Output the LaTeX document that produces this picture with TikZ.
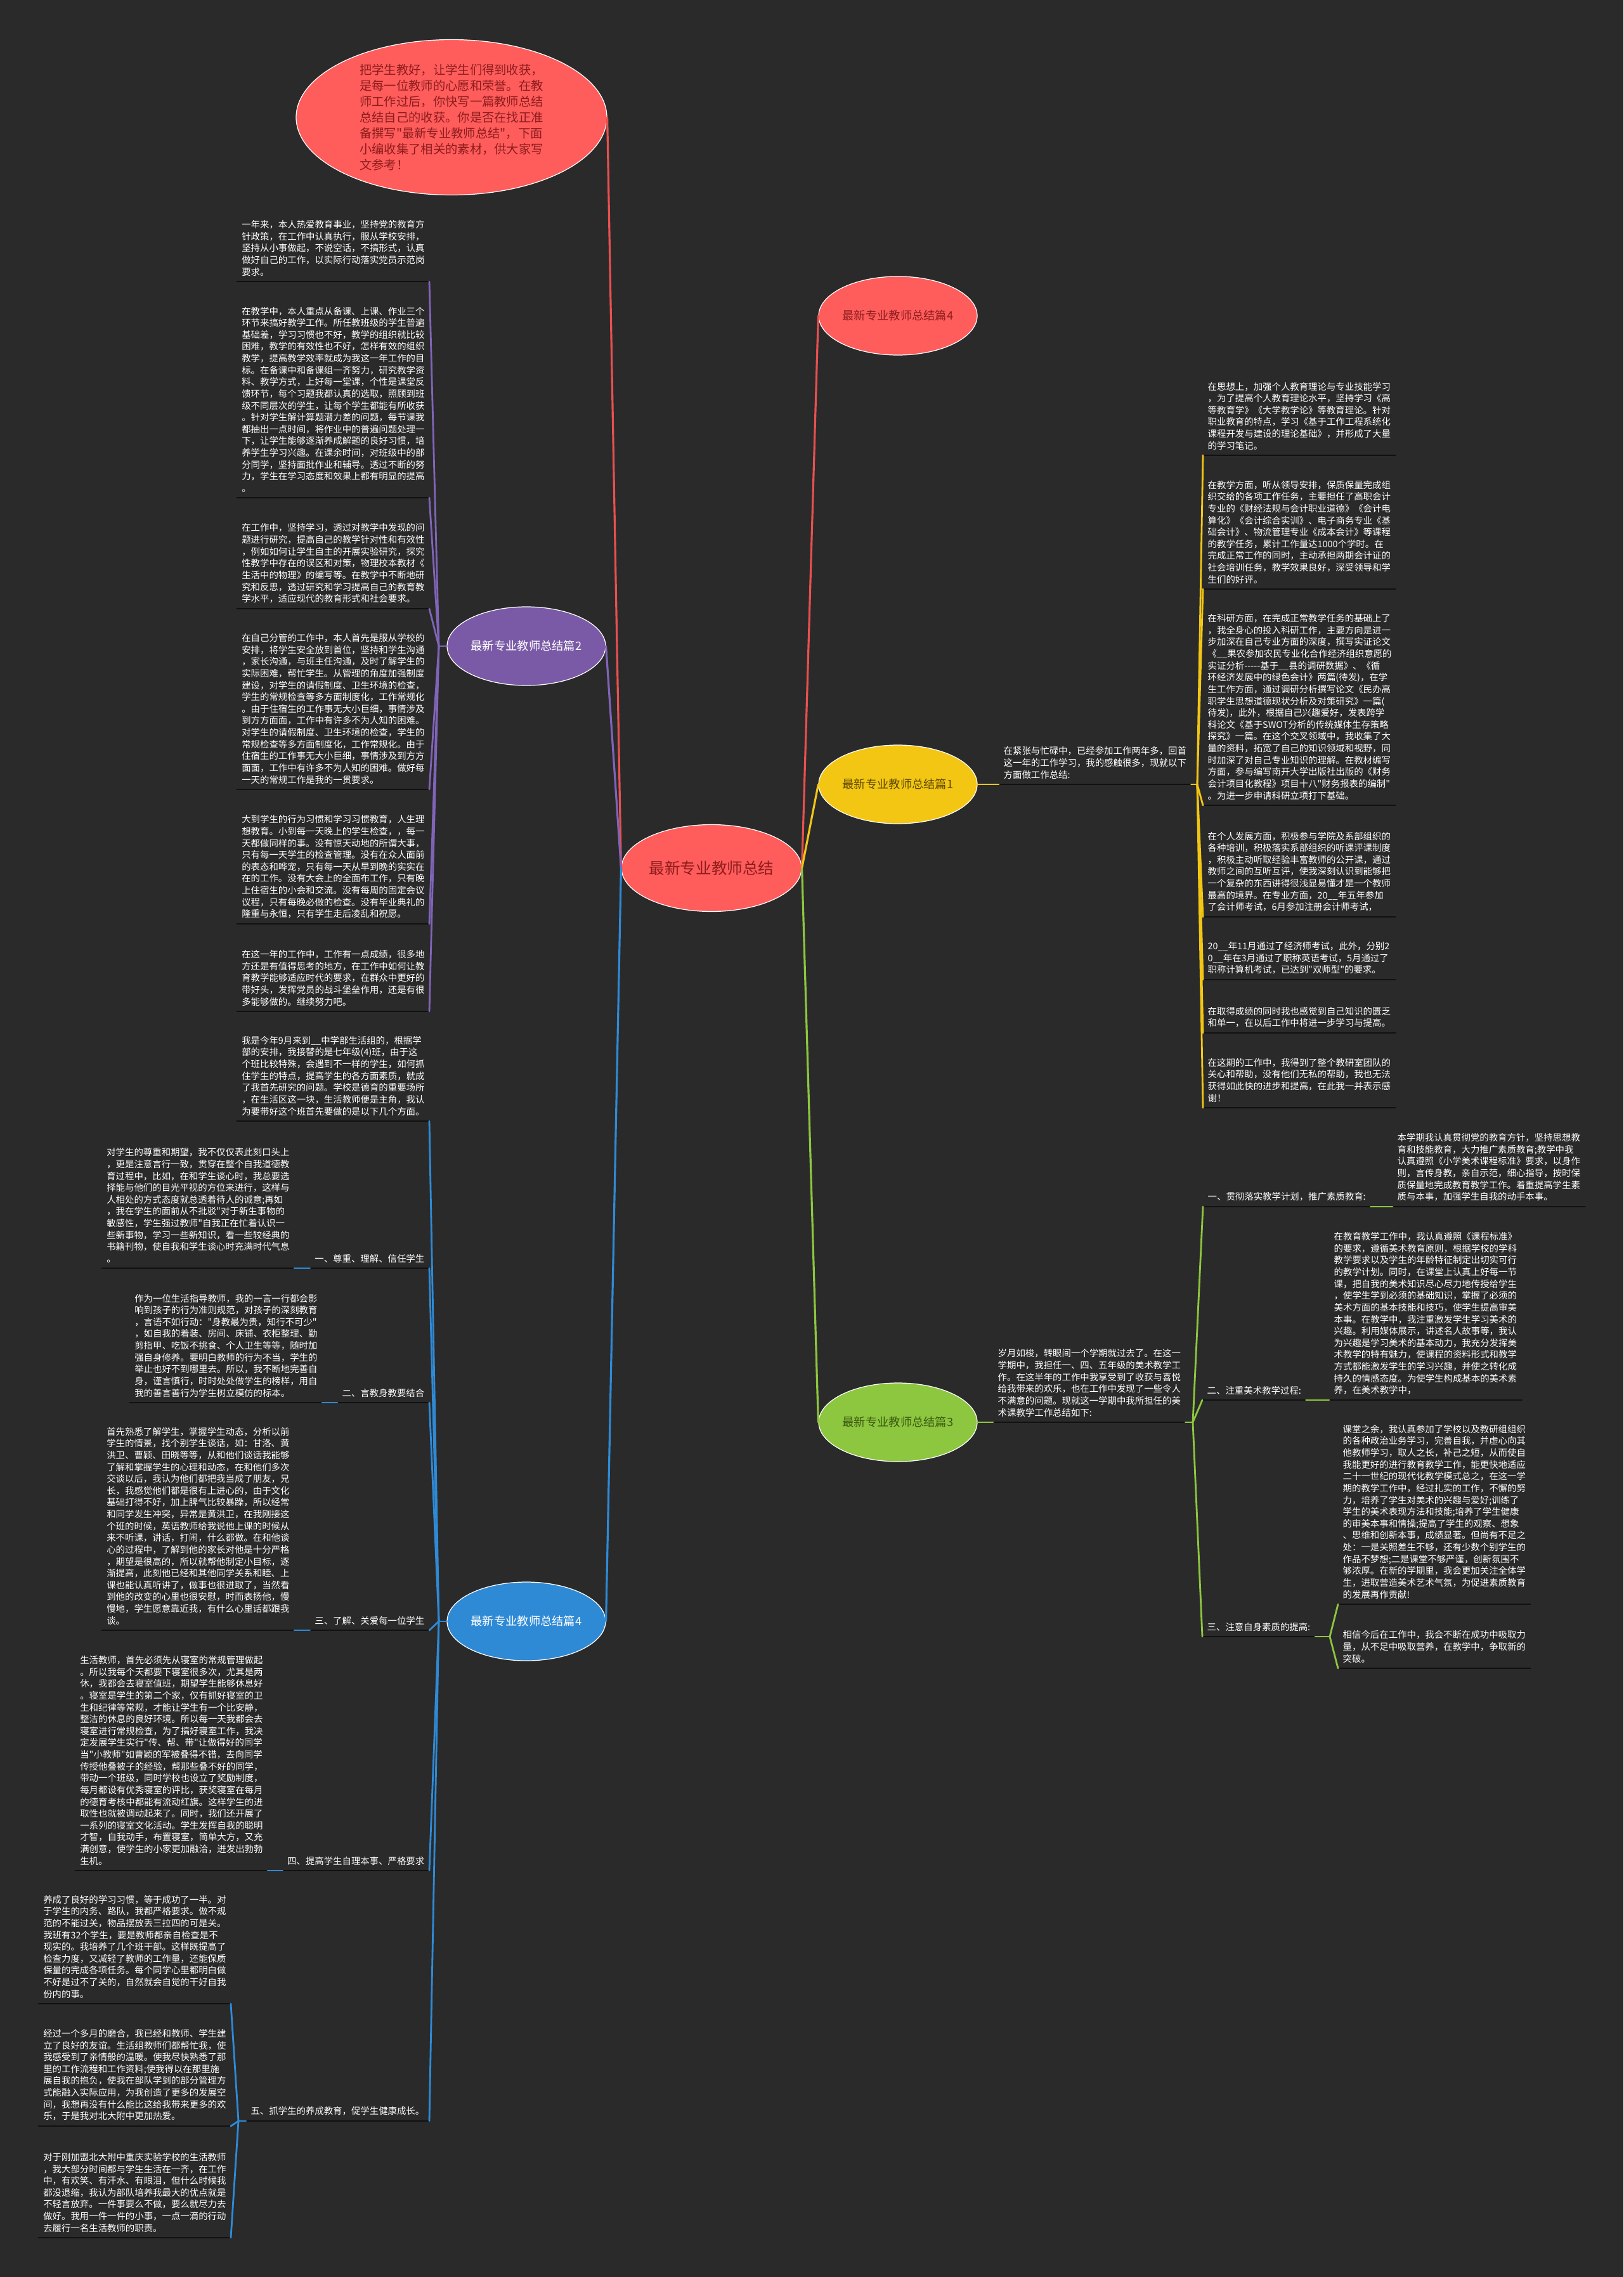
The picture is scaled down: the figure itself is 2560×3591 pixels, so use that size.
\documentclass[tikz,border=0pt]{standalone}
\usepackage{fontspec}
\newfontfamily\cjk{Noto Sans CJK SC}
\usetikzlibrary{shapes.geometric}
\definecolor{bgdark}{HTML}{2A2A2A}
\definecolor{ulblack}{HTML}{111111}
\definecolor{mmred}{HTML}{FF5C5C}
\definecolor{mmredtxt}{HTML}{8E1C1C}
\definecolor{mmredln}{HTML}{E85050}
\definecolor{mmpurple}{HTML}{7A5AA6}
\definecolor{mmpurpleln}{HTML}{8064B8}
\definecolor{mmblue}{HTML}{2F8AD6}
\definecolor{mmyellow}{HTML}{F3C614}
\definecolor{mmyellowtxt}{HTML}{5E4A00}
\definecolor{mmgreen}{HTML}{8DC63F}
\definecolor{mmgreentxt}{HTML}{3B5A12}
\newcommand\leaffont{\cjk\fontsize{4.1pt}{5.3pt}\selectfont}
\newcommand\topicfont{\cjk\fontsize{5.2pt}{6pt}\selectfont}
\newcommand\rootfont{\cjk\fontsize{7pt}{8pt}\selectfont}
\newcommand\introfont{\cjk\fontsize{5.5pt}{7.1pt}\selectfont}
\tikzset{
  every picture/.style={line cap=round, line join=round},
  leaf/.style={text=white, font=\leaffont, align=left, text width=28.8mm,
               inner xsep=0.7mm, inner ysep=0.8mm},
  leafL/.style={leaf, anchor=south east},
  leafR/.style={leaf, anchor=south west},
  tag/.style={text=white, font=\leaffont, inner xsep=0.7mm, inner ysep=0.8mm},
  uline/.style={draw=ulblack, line width=0.75pt},
  topic/.style={ellipse, draw=white, line width=0.35pt, minimum width=25mm,
                minimum height=12.4mm, inner sep=0pt, font=\topicfont},
  limb/.style={draw=#1, line width=0.9pt},
  twig/.style={draw=#1, line width=0.8pt},
}

\begin{document}
\begin{tikzpicture}[x=0.1mm, y=-0.1mm]
  \fill[bgdark] (0,0) rectangle (2560,3591);
  \useasboundingbox (0,0) rectangle (2560,3591);
  % root and topics
  \node[ellipse, draw=white, line width=0.35pt, fill=mmred, text=mmredtxt, minimum width=28.4mm,
        minimum height=13.7mm, inner sep=0pt, font=\rootfont] (cen) at (1122,1369) {最新专业教师总结};
  \node[ellipse, draw=white, line width=0.35pt, fill=mmred, text=mmredtxt, minimum width=49mm,
        minimum height=24.5mm, inner sep=0pt, align=left, font=\introfont] (intro) at (712,185)
    {把学生教好，让学生们得到收获，\\是每一位教师的心愿和荣誉。在教\\师工作过后，你快写一篇教师总结\\总结自己的收获。你是否在找正准\\备撰写"最新专业教师总结"，下面\\小编收集了相关的素材，供大家写\\文参考！};
  \node[topic, fill=mmpurple, text=white] (b2) at (830,1019) {最新专业教师总结篇2};
  \node[topic, fill=mmblue, text=white] (b4l) at (830,2557) {最新专业教师总结篇4};
  \node[topic, fill=mmred, text=mmredtxt] (b4r) at (1416,498) {最新专业教师总结篇4};
  \node[topic, fill=mmyellow, text=mmyellowtxt] (b1) at (1416,1237) {最新专业教师总结篇1};
  \node[topic, fill=mmgreen, text=mmgreentxt] (b3) at (1416,2243) {最新专业教师总结篇3};
  % purple texts
  \node[leafL] (p1) at (677,444) {一年来，本人热爱教育事业，坚持党的教育方\\针政策，在工作中认真执行，服从学校安排，\\坚持从小事做起，不说空话，不搞形式，认真\\做好自己的工作，以实际行动落实党员示范岗\\要求。};
  \node[leafL] (p2) at (677,785) {在教学中，本人重点从备课、上课、作业三个\\环节来搞好教学工作。所任教班级的学生普遍\\基础差，学习习惯也不好，教学的组织就比较\\困难，教学的有效性也不好，怎样有效的组织\\教学，提高教学效率就成为我这一年工作的目\\标。在备课中和备课组一齐努力，研究教学资\\料、教学方式，上好每一堂课，个性是课堂反\\馈环节，每个习题我都认真的选取，照顾到班\\级不同层次的学生，让每个学生都能有所收获\\。针对学生解计算题潜力差的问题，每节课我\\都抽出一点时间，将作业中的普遍问题处理一\\下，让学生能够逐渐养成解题的良好习惯，培\\养学生学习兴趣。在课余时间，对班级中的部\\分同学，坚持面批作业和辅导。透过不断的努\\力，学生在学习态度和效果上都有明显的提高\\。};
  \node[leafL] (p3) at (677,960) {在工作中，坚持学习，透过对教学中发现的问\\题进行研究，提高自己的教学针对性和有效性\\，例如如何让学生自主的开展实验研究，探究\\性教学中存在的误区和对策，物理校本教材《\\生活中的物理》的编写等。在教学中不断地研\\究和反思，透过研究和学习提高自己的教育教\\学水平，适应现代的教育形式和社会要求。};
  \node[leafL] (p4) at (677,1245) {在自己分管的工作中，本人首先是服从学校的\\安排，将学生安全放到首位，坚持和学生沟通\\，家长沟通，与班主任沟通，及时了解学生的\\实际困难，帮忙学生。从管理的角度加强制度\\建设，对学生的请假制度、卫生环境的检查，\\学生的常规检查等多方面制度化，工作常规化\\。由于住宿生的工作事无大小巨细，事情涉及\\到方方面面，工作中有许多不为人知的困难。\\对学生的请假制度、卫生环境的检查，学生的\\常规检查等多方面制度化，工作常规化。由于\\住宿生的工作事无大小巨细，事情涉及到方方\\面面，工作中有许多不为人知的困难。做好每\\一天的常规工作是我的一贯要求。};
  \node[leafL] (p5) at (677,1457) {大到学生的行为习惯和学习习惯教育，人生理\\想教育。小到每一天晚上的学生检查，，每一\\天都做同样的事。没有惊天动地的所谓大事，\\只有每一天学生的检查管理。没有在众人面前\\的表态和哗宠，只有每一天从早到晚的实实在\\在的工作。没有大会上的全面布工作，只有晚\\上住宿生的小会和交流。没有每周的固定会议\\议程，只有每晚必做的检查。没有毕业典礼的\\隆重与永恒，只有学生走后凌乱和祝愿。};
  \node[leafL] (p6) at (677,1595) {在这一年的工作中，工作有一点成绩，很多地\\方还是有值得思考的地方，在工作中如何让教\\育教学能够适应时代的要求，在群众中更好的\\带好头，发挥党员的战斗堡垒作用，还是有很\\多能够做的。继续努力吧。};
  % blue texts
  \node[leafL] (bq0) at (677,1768) {我是今年9月来到\_\_中学部生活组的，根据学\\部的安排，我接替的是七年级(4)班，由于这\\个班比较特殊，会遇到不一样的学生，如何抓\\住学生的特点，提高学生的各方面素质，就成\\了我首先研究的问题。学校是德育的重要场所\\，在生活区这一块，生活教师便是主角，我认\\为要带好这个班首先要做的是以下几个方面。};
  \node[tag, anchor=south east] (bt1) at (677,2000) {一、尊重、理解、信任学生};
  \node[leafL] (bx1) at (464,2000) {对学生的尊重和期望，我不仅仅表此刻口头上\\，更是注意言行一致，贯穿在整个自我道德教\\育过程中，比如，在和学生谈心时，我总要选\\择能与他们的目光平视的方位来进行，这样与\\人相处的方式态度就总透着待人的诚意;再如\\，我在学生的面前从不批驳"对于新生事物的\\敏感性，学生强过教师"自我正在忙着认识一\\些新事物，学习一些新知识，看一些较经典的\\书籍刊物，使自我和学生谈心时充满时代气息\\。};
  \node[tag, anchor=south east] (bt2) at (677,2212) {二、言教身教要结合};
  \node[leafL] (bx2) at (508,2212) {作为一位生活指导教师，我的一言一行都会影\\响到孩子的行为准则规范，对孩子的深刻教育\\，言语不如行动："身教最为贵，知行不可少"\\，如自我的着装、房间、床铺、衣柜整理、勤\\剪指甲、吃饭不挑食、个人卫生等等，随时加\\强自身修养。要明白教师的行为不当，学生的\\举止也好不到哪里去。所以，我不断地完善自\\身，谨言慎行，时时处处做学生的榜样，用自\\我的善言善行为学生树立模仿的标本。};
  \node[tag, anchor=south east] (bt3) at (677,2571) {三、了解、关爱每一位学生};
  \node[leafL] (bx3) at (464,2571) {首先熟悉了解学生，掌握学生动态，分析以前\\学生的情景，找个别学生谈话，如：甘洛、黄\\洪卫、曹颖、田晓等等，从和他们谈话我能够\\了解和掌握学生的心理和动态，在和他们多次\\交谈以后，我认为他们都把我当成了朋友，兄\\长，我感觉他们都是很有上进心的，由于文化\\基础打得不好，加上脾气比较暴躁，所以经常\\和同学发生冲突，异常是黄洪卫，在我刚接这\\个班的时候，英语教师给我说他上课的时候从\\来不听课，讲话，打闹，什么都做。在和他谈\\心的过程中，了解到他的家长对他是十分严格\\，期望是很高的，所以就帮他制定小目标，逐\\渐提高，此刻他已经和其他同学关系和睦、上\\课也能认真听讲了，做事也很进取了，当然看\\到他的改变的心里也很安慰，时而表扬他，慢\\慢地，学生愿意靠近我，有什么心里话都跟我\\谈。};
  \node[tag, anchor=south east] (bt4) at (677,2950) {四、提高学生自理本事、严格要求};
  \node[leafL] (bx4) at (422,2950) {生活教师，首先必须先从寝室的常规管理做起\\。所以我每个天都要下寝室很多次，尤其是两\\休，我都会去寝室值班，期望学生能够休息好\\。寝室是学生的第二个家，仅有抓好寝室的卫\\生和纪律等常规，才能让学生有一个比安静，\\整洁的休息的良好环境。所以每一天我都会去\\寝室进行常规检查，为了搞好寝室工作，我决\\定发展学生实行"传、帮、带"让做得好的同学\\当"小教师"如曹颖的军被叠得不错，去向同学\\传授他叠被子的经验，帮那些叠不好的同学，\\带动一个班级，同时学校也设立了奖励制度，\\每月都设有优秀寝室的评比，获奖寝室在每月\\的德育考核中都能有流动红旗。这样学生的进\\取性也就被调动起来了。同时，我们还开展了\\一系列的寝室文化活动。学生发挥自我的聪明\\才智，自我动手，布置寝室，简单大方，又充\\满创意，使学生的小家更加融洽，迸发出勃勃\\生机。};
  \node[tag, anchor=south east] (bt5) at (677,3345) {五、抓学生的养成教育，促学生健康成长。};
  \node[leafL] (bm1) at (364,3160) {养成了良好的学习习惯，等于成功了一半。对\\于学生的内务、路队，我都严格要求。做不规\\范的不能过关，物品摆放丢三拉四的可是关。\\我班有32个学生，要是教师都亲自检查是不\\现实的。我培养了几个班干部。这样既提高了\\检查力度，又减轻了教师的工作量，还能保质\\保量的完成各项任务。每个同学心里都明白做\\不好是过不了关的，自然就会自觉的干好自我\\份内的事。};
  \node[leafL] (bm2) at (364,3353) {经过一个多月的磨合，我已经和教师、学生建\\立了良好的友谊。生活组教师们都帮忙我，使\\我感受到了亲情般的温暖。使我尽快熟悉了那\\里的工作流程和工作资料;使我得以在那里施\\展自我的抱负，使我在部队学到的部分管理方\\式能融入实际应用，为我创造了更多的发展空\\间，我想再没有什么能比这给我带来更多的欢\\乐，于是我对北大附中更加热爱。};
  \node[leafL] (bm3) at (364,3529) {对于刚加盟北大附中重庆实验学校的生活教师\\，我大部分时间都与学生生活在一齐，在工作\\中，有欢笑、有汗水、有眼泪，但什么时候我\\都没退缩，我认为部队培养我最大的优点就是\\不轻言放弃。一件事要么不做，要么就尽力去\\做好。我用一件一件的小事，一点一滴的行动\\去履行一名生活教师的职责。};
  % yellow texts
  \node[leafR] (y0) at (1575,1237) {在紧张与忙碌中，已经参加工作两年多，回首\\这一年的工作学习，我的感触很多，现就以下\\方面做工作总结:};
  \node[leafR] (y1) at (1897,718) {在思想上，加强个人教育理论与专业技能学习\\，为了提高个人教育理论水平，坚持学习《高\\等教育学》《大学教学论》等教育理论。针对\\职业教育的特点，学习《基于工作工程系统化\\课程开发与建设的理论基础》，并形成了大量\\的学习笔记。};
  \node[leafR] (y2) at (1897,929) {在教学方面，听从领导安排，保质保量完成组\\织交给的各项工作任务，主要担任了高职会计\\专业的《财经法规与会计职业道德》《会计电\\算化》《会计综合实训》、电子商务专业《基\\础会计》、物流管理专业《成本会计》等课程\\的教学任务，累计工作量达1000个学时。在\\完成正常工作的同时，主动承担两期会计证的\\社会培训任务，教学效果良好，深受领导和学\\生们的好评。};
  \node[leafR] (y3) at (1897,1270) {在科研方面，在完成正常教学任务的基础上了\\，我全身心的投入科研工作，主要方向是进一\\步加深在自己专业方面的深度，撰写实证论文\\《\_\_果农参加农民专业化合作经济组织意愿的\\实证分析-----基于\_\_县的调研数据》、《循\\环经济发展中的绿色会计》两篇(待发)，在学\\生工作方面，通过调研分析撰写论文《民办高\\职学生思想道德现状分析及对策研究》一篇(\\待发)，此外，根据自己兴趣爱好，发表跨学\\科论文《基于SWOT分析的传统媒体生存策略\\探究》一篇。在这个交叉领域中，我收集了大\\量的资料，拓宽了自己的知识领域和视野，同\\时加深了对自己专业知识的理解。在教材编写\\方面，参与编写南开大学出版社出版的《财务\\会计项目化教程》项目十八"财务报表的编制"\\。为进一步申请科研立项打下基础。};
  \node[leafR] (y4) at (1897,1446) {在个人发展方面，积极参与学院及系部组织的\\各种培训，积极落实系部组织的听课评课制度\\，积极主动听取经验丰富教师的公开课，通过\\教师之间的互听互评，使我深刻认识到能够把\\一个复杂的东西讲得很浅显易懂才是一个教师\\最高的境界。在专业方面，20\_\_年五年参加\\了会计师考试，6月参加注册会计师考试，};
  \node[leafR] (y5) at (1897,1545) {20\_\_年11月通过了经济师考试，此外，分别2\\0\_\_年在3月通过了职称英语考试，5月通过了\\职称计算机考试，已达到"双师型"的要求。};
  \node[leafR] (y6) at (1897,1629) {在取得成绩的同时我也感觉到自己知识的匮乏\\和单一，在以后工作中将进一步学习与提高。};
  \node[leafR] (y7) at (1897,1747) {在这期的工作中，我得到了整个教研室团队的\\关心和帮助，没有他们无私的帮助，我也无法\\获得如此快的进步和提高，在此我一并表示感\\谢！};
  % green texts
  \node[leafR] (g0) at (1566,2243) {岁月如梭，转眼间一个学期就过去了。在这一\\学期中，我担任一、四、五年级的美术教学工\\作。在这半年的工作中我享受到了收获与喜悦\\给我带来的欢乐，也在工作中发现了一些令人\\不满意的问题。现就这一学期中我所担任的美\\术课教学工作总结如下:};
  \node[tag, anchor=south west] (gt1) at (1897,1903) {一、贯彻落实教学计划，推广素质教育:};
  \node[leafR] (gx1) at (2196,1903) {本学期我认真贯彻党的教育方针，坚持思想教\\育和技能教育，大力推广素质教育;教学中我\\认真遵照《小学美术课程标准》要求，以身作\\则，言传身教，亲自示范，细心指导，按时保\\质保量地完成教育教学工作。着重提高学生素\\质与本事，加强学生自我的动手本事。};
  \node[tag, anchor=south west] (gt2) at (1896,2208) {二、注重美术教学过程:};
  \node[leafR] (gx2) at (2096,2208) {在教育教学工作中，我认真遵照《课程标准》\\的要求，遵循美术教育原则，根据学校的学科\\教学要求以及学生的年龄特征制定出切实可行\\的教学计划。同时，在课堂上认真上好每一节\\课，把自我的美术知识尽心尽力地传授给学生\\，使学生学到必须的基础知识，掌握了必须的\\美术方面的基本技能和技巧，使学生提高审美\\本事。在教学中，我注重激发学生学习美术的\\兴趣。利用媒体展示，讲述名人故事等，我认\\为兴趣是学习美术的基本动力，我充分发挥美\\术教学的特有魅力，使课程的资料形式和教学\\方式都能激发学生的学习兴趣，并使之转化成\\持久的情感态度。为使学生构成基本的美术素\\养，在美术教学中，};
  \node[tag, anchor=south west] (gt3) at (1896,2581) {三、注意自身素质的提高:};
  \node[leafR] (gx3) at (2110,2530) {课堂之余，我认真参加了学校以及教研组组织\\的各种政治业务学习，完善自我，并虚心向其\\他教师学习，取人之长，补己之短，从而使自\\我能更好的进行教育教学工作，能更快地适应\\二十一世纪的现代化教学模式总之，在这一学\\期的教学工作中，经过扎实的工作，不懈的努\\力，培养了学生对美术的兴趣与爱好;训练了\\学生的美术表现方法和技能;培养了学生健康\\的审美本事和情操;提高了学生的观察、想象\\、思维和创新本事，成绩显著。但尚有不足之\\处：一是关照差生不够，还有少数个别学生的\\作品不梦想;二是课堂不够严谨，创新氛围不\\够浓厚。在新的学期里，我会更加关注全体学\\生，进取营造美术艺术气氛，为促进素质教育\\的发展再作贡献!};
  \node[leafR] (gx4) at (2110,2631) {相信今后在工作中，我会不断在成功中吸取力\\量，从不足中吸取营养，在教学中，争取新的\\突破。};
  % junctions
  \coordinate (pj) at (692,1019);
  \coordinate (bj) at (692,2557);
  \coordinate (b5j) at (376,3345);
  \coordinate (yj) at (1888,1237);
  \coordinate (gj) at (1881,2243);
  \coordinate (g3j) at (2097,2581);
  % underlines
  \foreach \n in {p1,p2,p3,p4,p5,p6,bq0,bt1,bt2,bt3,bt4,bt5,bx1,bx2,bx3,bx4,bm1,bm2,bm3,
                  y0,y1,y2,y3,y4,y5,y6,y7,g0,gt1,gt2,gt3,gx1,gx2,gx3,gx4}
    \draw[uline] (\n.south west) -- (\n.south east);
  % root links
  \draw[limb=mmredln] (cen.west) -- (intro.east);
  \draw[limb=mmpurpleln] (cen.west) -- (b2.east);
  \draw[limb=mmblue] (cen.west) -- (b4l.east);
  \draw[limb=mmredln] (cen.east) -- (b4r.west);
  \draw[limb=mmyellow] (cen.east) -- (b1.west);
  \draw[limb=mmgreen] (cen.east) -- (b3.west);
  % purple links
  \draw[twig=mmpurpleln] (b2.west) -- (pj);
  \foreach \n in {p1,p2,p3,p4,p5,p6} \draw[twig=mmpurpleln] (pj) -- (\n.south east);
  % blue links
  \draw[twig=mmblue] (b4l.west) -- (bj);
  \foreach \n in {bq0,bt1,bt2,bt3,bt4,bt5} \draw[twig=mmblue] (bj) -- (\n.south east);
  \foreach \t/\x in {bt1/bx1, bt2/bx2, bt3/bx3, bt4/bx4} \draw[twig=mmblue] (\t.south west) -- (\x.south east);
  \draw[twig=mmblue] (bt5.south west) -- (b5j);
  \foreach \n in {bm1,bm2,bm3} \draw[twig=mmblue] (b5j) -- (\n.south east);
  % yellow links
  \draw[twig=mmyellow] (b1.east) -- (y0.south west);
  \draw[twig=mmyellow] (y0.south east) -- (yj);
  \foreach \n in {y1,y2,y3,y4,y5,y6,y7} \draw[twig=mmyellow] (yj) -- (\n.south west);
  % green links
  \draw[twig=mmgreen] (b3.east) -- (g0.south west);
  \draw[twig=mmgreen] (g0.south east) -- (gj);
  \foreach \n in {gt1,gt2,gt3} \draw[twig=mmgreen] (gj) -- (\n.south west);
  \draw[twig=mmgreen] (gt1.south east) -- (gx1.south west);
  \draw[twig=mmgreen] (gt2.south east) -- (gx2.south west);
  \draw[twig=mmgreen] (gt3.south east) -- (g3j);
  \foreach \n in {gx3,gx4} \draw[twig=mmgreen] (g3j) -- (\n.south west);
\end{tikzpicture}
\end{document}
